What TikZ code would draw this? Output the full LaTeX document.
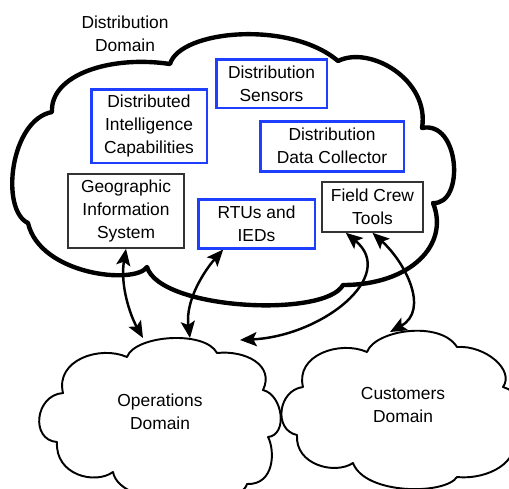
\documentclass[tikz,border=0pt]{standalone}
\usepackage{fontspec}
\setmainfont{Liberation Sans}
\usepackage{xcolor}
\usepackage{tikz}
\usetikzlibrary{arrows.meta,positioning}
\definecolor{compblue}{HTML}{1F3FFF}
\definecolor{boxgray}{HTML}{333333}

\begin{document}
\begin{tikzpicture}[x=0.02cm,y=-0.02cm,
    txt/.style={font=\fontsize{9.9}{12.9}\selectfont,align=center,inner sep=0pt},
    bluebox/.style={txt,draw=compblue,line width=1.7pt,fill=white},
    graybox/.style={txt,draw=boxgray,line width=0.9pt,fill=white},
    bigcloud/.style={draw,line width=2.5pt,fill=white,line join=round},
    smallcloud/.style={draw,line width=1.1pt,fill=white,line join=round},
    link/.style={line width=1.4pt,{Stealth[length=9.5pt,width=8pt,inset=2pt]}-{Stealth[length=9.5pt,width=8pt,inset=2pt]}}]
  \useasboundingbox (0,0) rectangle (509,488);
  % Distribution domain cloud
  \draw[bigcloud] (52,112) .. controls (50,75) and (110,55) .. (170,64)
    .. controls (180,30) and (290,20) .. (338,61)
    .. controls (370,45) and (430,80) .. (422,128)
    .. controls (460,120) and (465,205) .. (433,203)
    .. controls (450,245) and (410,285) .. (343,285)
    .. controls (325,318) and (160,310) .. (147,267)
    .. controls (135,285) and (40,275) .. (28,223)
    .. controls (0,210) and (10,120) .. (52,112) -- cycle;
  % Operations cloud
  \draw[smallcloud] (63,393) .. controls (55,360) and (100,345) .. (127,357)
    .. controls (135,335) and (205,330) .. (217,353)
    .. controls (245,350) and (275,365) .. (263,390)
    .. controls (283,395) and (288,435) .. (268,437)
    .. controls (275,450) and (275,485) .. (247,484)
    .. controls (240,510) and (120,510) .. (113,472)
    .. controls (95,485) and (55,475) .. (57,442)
    .. controls (30,440) and (35,395) .. (63,393) -- cycle;
  % Customers cloud
  \draw[smallcloud] (303,387) .. controls (295,355) and (340,340) .. (367,352)
    .. controls (375,330) and (440,320) .. (457,347)
    .. controls (485,345) and (515,370) .. (503,387)
    .. controls (530,395) and (535,435) .. (512,440)
    .. controls (520,460) and (490,480) .. (457,477)
    .. controls (445,495) and (365,495) .. (353,463)
    .. controls (335,475) and (295,465) .. (297,435)
    .. controls (273,430) and (278,390) .. (303,387) -- cycle;
  % Domain labels
  \node[txt] (distdom) at (125,34) {Distribution\\Domain};
  \node[txt] (opsdom) at (160,412) {Operations\\Domain};
  \node[txt] (custdom) at (403,405) {Customers\\Domain};
  % Components
  \node[bluebox,minimum width=2.32cm,minimum height=1.48cm] (dic) at (149,126) {Distributed\\Intelligence\\Capabilities};
  \node[bluebox,minimum width=2.22cm,minimum height=0.98cm] (sens) at (271.5,83.5) {Distribution\\Sensors};
  \node[bluebox,minimum width=2.88cm,minimum height=1.0cm] (ddc) at (332,146) {Distribution\\Data Collector};
  \node[graybox,minimum width=2.32cm,minimum height=1.48cm] (gis) at (126,211) {Geographic\\Information\\System};
  \node[bluebox,minimum width=2.34cm,minimum height=0.98cm] (rtu) at (256.5,223.5) {RTUs and\\IEDs};
  \node[graybox,minimum width=2.02cm,minimum height=1.0cm] (fct) at (372.5,207) {Field Crew\\Tools};
  % Arrow ends on the clouds
  \coordinate (opsgis) at (143,338);
  \coordinate (opsrtu) at (190,338);
  \coordinate (opsfct) at (240,340);
  \coordinate (custfct) at (390,332);
  % Links
  \draw[link] (gis.south) .. controls (120,285) and (130,315) .. (opsgis);
  \draw[link] (rtu.218) .. controls (205,270) and (185,300) .. (opsrtu);
  \draw[link] (opsfct) .. controls (322,336) and (398,276) .. (fct.224);
  \draw[link] (fct.south) .. controls (405,262) and (430,310) .. (custfct);
\end{tikzpicture}
\end{document}
